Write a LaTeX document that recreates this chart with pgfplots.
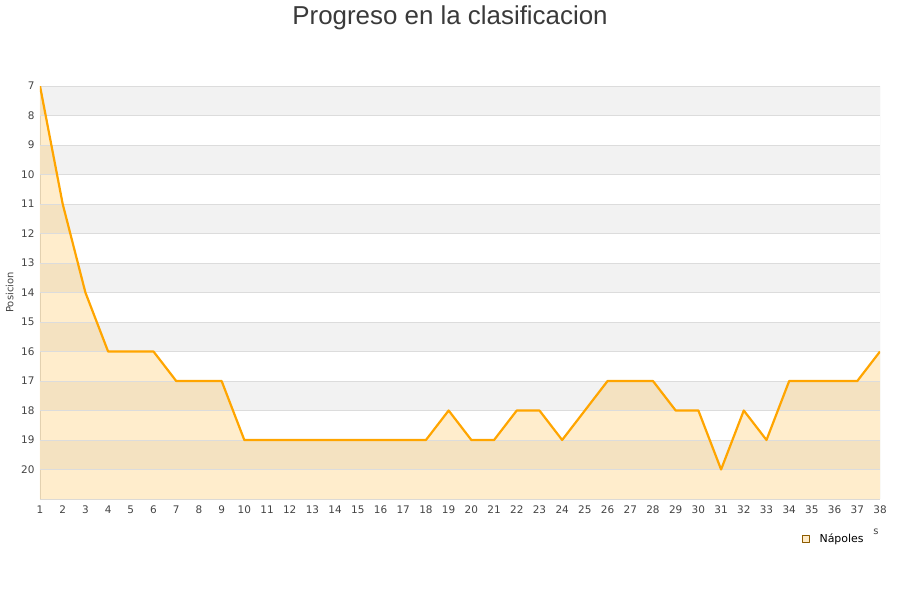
\documentclass[border=0pt]{standalone}
\usepackage{pgfplots}
\pgfplotsset{compat=1.18}
\usepackage{fontspec}
\setmainfont{DejaVu Sans}
\newfontfamily\titlefont{Liberation Sans}
\definecolor{linecol}{HTML}{FFA500}
\definecolor{bandgray}{HTML}{F2F2F2}
\definecolor{gridcol}{HTML}{DCDCDC}
\definecolor{tickcol}{HTML}{444444}
\definecolor{titlecol}{HTML}{3A3A3A}

% position per matchday
\pgfplotstableread{
j pos
1 7
2 11
3 14
4 16
5 16
6 16
7 17
8 17
9 17
10 19
11 19
12 19
13 19
14 19
15 19
16 19
17 19
18 19
19 18
20 19
21 19
22 18
23 18
24 19
25 18
26 17
27 17
28 17
29 18
30 18
31 20
32 18
33 19
34 17
35 17
36 17
37 17
38 16
}\napoles

% same points closed down to the bottom edge, for the shaded area
\pgfplotstableread{
j pos
1 7
2 11
3 14
4 16
5 16
6 16
7 17
8 17
9 17
10 19
11 19
12 19
13 19
14 19
15 19
16 19
17 19
18 19
19 18
20 19
21 19
22 18
23 18
24 19
25 18
26 17
27 17
28 17
29 18
30 18
31 20
32 18
33 19
34 17
35 17
36 17
37 17
38 16
38 21
1 21
}\napolesarea

\begin{document}
\begin{tikzpicture}
\useasboundingbox (0,0) rectangle (900bp,600bp);
\node[font=\titlefont\fontsize{26}{30}\selectfont, text=titlecol] at (450bp,582bp) {Progreso en la clasificacion};
\begin{axis}[
  at={(40bp,101bp)}, anchor=south west,
  scale only axis, width=840bp, height=413bp,
  xmin=1, xmax=38, ymin=7, ymax=21,
  y dir=reverse,
  xtick={1,...,38}, ytick={7,...,20},
  tick style={draw=none},
  axis line style={gridcol, line width=0.8bp},
  axis x line*=bottom, axis y line*=left,
  tick label style={font=\fontsize{10.5}{12}\selectfont, text=tickcol},
  xticklabel style={yshift=-3bp},
  yticklabel style={xshift=-2bp},
  ylabel={Posicion},
  ylabel style={font=\fontsize{10}{11}\selectfont, text=tickcol, at={(rel axis cs:-0.036,0.5)}, anchor=center, rotate=0},
  /pgf/number format/assume math mode=true,
  legend style={at={(0.907,-0.097)}, anchor=west, draw=none, fill=none,
    font=\fontsize{11}{12}\selectfont, inner sep=0pt,
    /tikz/every even column/.append style={column sep=0bp}},
  legend image code/.code={\draw[draw=linecol!55!black, line width=0.5bp, fill=linecol!22] (0bp,-3.5bp) rectangle (7bp,3.5bp);},
]
% alternating horizontal bands
\fill[bandgray] (axis cs:1,7) rectangle (axis cs:38,8);
\fill[bandgray] (axis cs:1,9) rectangle (axis cs:38,10);
\fill[bandgray] (axis cs:1,11) rectangle (axis cs:38,12);
\fill[bandgray] (axis cs:1,13) rectangle (axis cs:38,14);
\fill[bandgray] (axis cs:1,15) rectangle (axis cs:38,16);
\fill[bandgray] (axis cs:1,17) rectangle (axis cs:38,18);
\fill[bandgray] (axis cs:1,19) rectangle (axis cs:38,20);
\addplot[fill=linecol, fill opacity=0.2, draw=none, forget plot] table[x=j, y=pos] {\napolesarea};
% horizontal grid lines
\foreach \g in {7,...,20} {
  \edef\tmp{\noexpand\draw[gridcol, line width=0.8bp] (axis cs:1,\g) -- (axis cs:38,\g);}\tmp
}
\draw[gridcol, line width=0.8bp] (axis cs:38,7) -- (axis cs:38,21);
\addplot[linecol, line width=2.2bp, line join=round] table[x=j, y=pos] {\napoles};
\addlegendentry{\hspace{8bp}Nápoles}
\end{axis}
\node[font=\fontsize{10}{12}\selectfont, text=tickcol] at (876bp,68bp) {s};
\end{tikzpicture}
\end{document}
